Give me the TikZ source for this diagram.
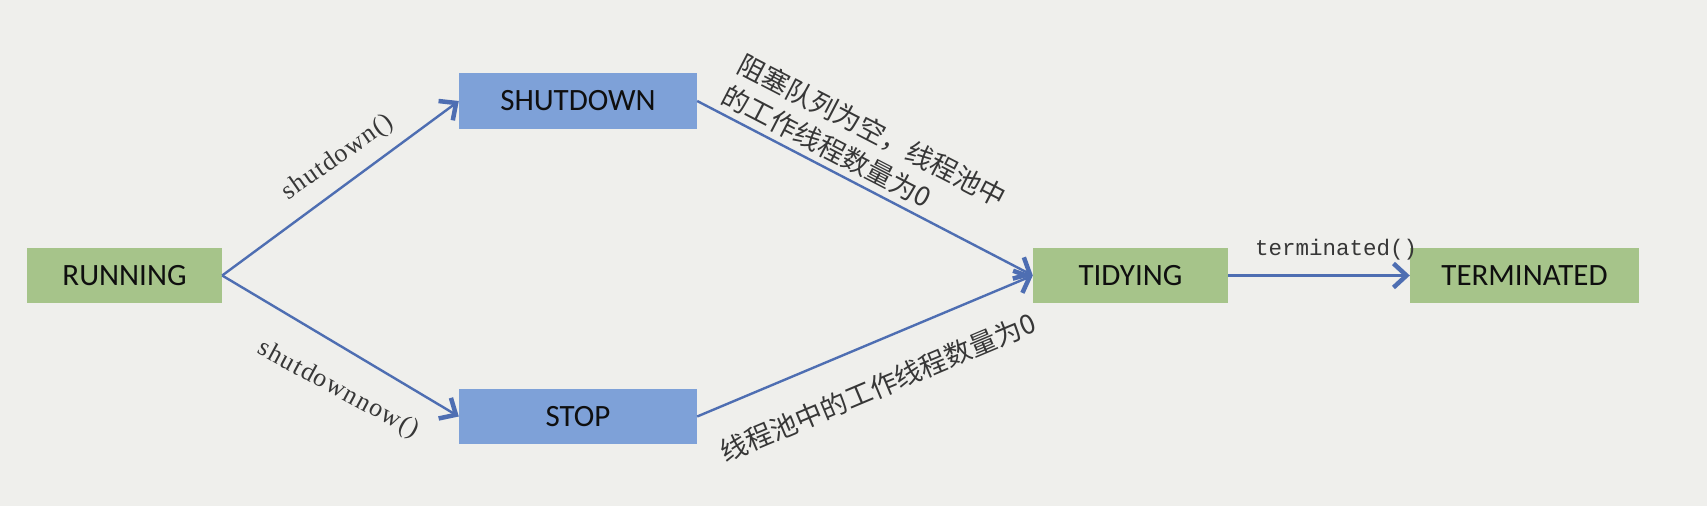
\documentclass[tikz,border=0pt]{standalone}
\usepackage{fontspec}
\setmainfont{Liberation Serif}
\newfontfamily\boxfont{Carlito}
\newfontfamily\codefont[LetterSpace=5]{Liberation Serif}
\newfontfamily\monofont{Liberation Mono}
\newfontfamily\cjk{Noto Sans CJK SC}
\usetikzlibrary{arrows.meta}
\definecolor{bgc}{RGB}{239,239,236}
\definecolor{greenbox}{RGB}{166,196,138}
\definecolor{bluebox}{RGB}{126,161,216}
\definecolor{edgec}{RGB}{78,110,178}
\definecolor{txtc}{RGB}{15,15,15}
\definecolor{lblc}{RGB}{55,55,55}
\tikzset{
  statebox/.style={rectangle, inner sep=0pt, text=txtc,
    font=\boxfont\fontsize{31}{37}\selectfont},
  greenstate/.style={statebox, fill=greenbox},
  bluestate/.style={statebox, fill=bluebox},
  trans/.style={draw=edgec, line width=2.4pt,
    -{Straight Barb[length=13pt,width=24pt,line width=4.5pt]}},
  codelbl/.style={text=lblc, inner sep=0pt, font=\codefont\fontsize{26}{30}\selectfont},
  monolbl/.style={text=lblc, inner sep=0pt, font=\monofont\fontsize{22.5}{26}\selectfont},
  cjklbl/.style={text=lblc, inner sep=0pt, font=\cjk\fontsize{27}{35}\selectfont}
}
\begin{document}
\begin{tikzpicture}[x=1pt,y=-1pt]
\fill[bgc] (0,0) rectangle (1707,506);
\useasboundingbox (0,0) rectangle (1707,506);

\node[greenstate, minimum width=195pt, minimum height=55pt] (run) at (124.5,275.5) {RUNNING};
\node[bluestate, minimum width=238pt, minimum height=56pt] (shut) at (578,101) {SHUTDOWN};
\node[bluestate, minimum width=238pt, minimum height=55pt] (stop) at (578,416.5) {STOP};
\node[greenstate, minimum width=195pt, minimum height=55pt] (tidy) at (1130.5,275.5) {TIDYING};
\node[greenstate, minimum width=229pt, minimum height=55pt] (term) at (1524.5,275.5) {TERMINATED};

\draw[trans] (run.east) -- (shut.west);
\draw[trans] (run.east) -- (stop.west);
\draw[trans] (shut.east) -- (tidy.west);
\draw[trans] (stop.east) -- (tidy.west);
\draw[trans] (tidy.east) -- (term.west);

\node[codelbl, rotate=35] (l1) at (338,158) {shutdown()};
\node[codelbl, rotate=-28.4] (l2) at (338,390) {shutdownnow()};
\node[monolbl] (l3) at (1336,250) {terminated()};
\node[cjklbl, rotate=-27.4, align=left] (l4) at (864,146) {阻塞队列为空，线程池中\\的工作线程数量为0};
\node[cjklbl, rotate=22.8] (l5) at (878,387) {线程池中的工作线程数量为0};
\end{tikzpicture}
\end{document}
